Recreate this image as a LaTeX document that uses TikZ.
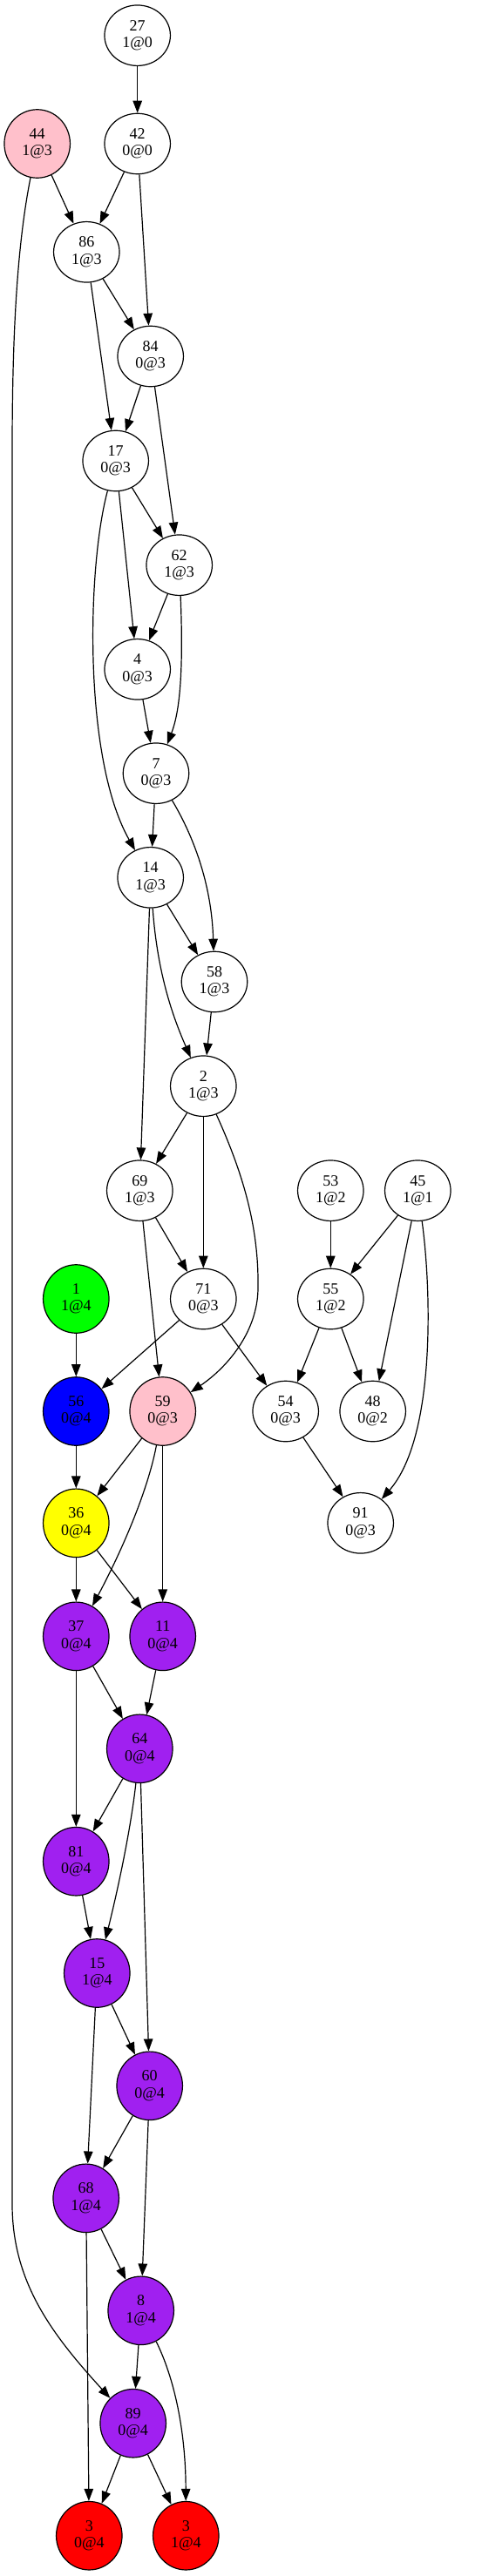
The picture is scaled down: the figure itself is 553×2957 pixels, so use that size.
\documentclass[tikz,border=0pt]{standalone}
\usepackage{fontspec}
\setmainfont{Liberation Serif}
\usetikzlibrary{arrows.meta,shapes.geometric}
\definecolor{gvpink}{RGB}{255,192,203}
\definecolor{gvpurple}{RGB}{160,32,240}
\definecolor{gvgreen}{RGB}{0,255,0}
\definecolor{gvblue}{RGB}{0,0,255}
\definecolor{gvyellow}{RGB}{255,255,0}
\definecolor{gvred}{RGB}{255,0,0}
\begin{document}
\begin{tikzpicture}[x=1pt,y=-1pt,
  nd/.style={ellipse,draw,line width=1.2pt,inner sep=0pt,minimum width=75.5pt,minimum height=69.5pt,align=center,font=\fontsize{18}{19.3}\selectfont},
  cn/.style={nd,minimum height=78.5pt},
  ed/.style={-{Triangle[length=14pt,width=10.5pt]},line width=1.2pt}]
\fill[white] (0,0) rectangle (553,2957);
\useasboundingbox (0,0) rectangle (553,2957);
% nodes
\node[nd] (n27) at (157.7,40.7) {27\\1@0};
\node[cn,fill=gvpink] (n44) at (42.7,165) {44\\1@3};
\node[nd] (n42) at (157.7,165) {42\\0@0};
\node[nd] (n86) at (99.3,289.3) {86\\1@3};
\node[nd] (n84) at (172.7,409) {84\\0@3};
\node[nd] (n17) at (132.7,529) {17\\0@3};
\node[nd] (n62) at (205.7,648.7) {62\\1@3};
\node[nd] (n4) at (157.7,768.3) {4\\0@3};
\node[nd] (n7) at (179,887.7) {7\\0@3};
\node[nd] (n14) at (172.7,1007.3) {14\\1@3};
\node[nd] (n58) at (246,1127) {58\\1@3};
\node[nd] (n2) at (233.3,1246.7) {2\\1@3};
\node[nd] (n69) at (160.3,1366.7) {69\\1@3};
\node[nd] (n53) at (379.3,1366.7) {53\\1@2};
\node[nd] (n45) at (479.3,1366.7) {45\\1@1};
\node[cn,fill=gvgreen] (n1) at (87.3,1491) {1\\1@4};
\node[nd] (n71) at (233.3,1491) {71\\0@3};
\node[nd] (n55) at (379.3,1491) {55\\1@2};
\node[cn,fill=gvblue] (n56) at (87.3,1620) {56\\0@4};
\node[cn,fill=gvpink] (n59) at (186.7,1620) {59\\0@3};
\node[nd] (n54) at (327.7,1620) {54\\0@3};
\node[nd] (n48) at (427.7,1620) {48\\0@2};
\node[cn,fill=gvyellow] (n36) at (87.3,1748.3) {36\\0@4};
\node[nd] (n91) at (413.7,1748.3) {91\\0@3};
\node[cn,fill=gvpurple] (n37) at (87.3,1878.3) {37\\0@4};
\node[cn,fill=gvpurple] (n11) at (186.7,1878.3) {11\\0@4};
\node[cn,fill=gvpurple] (n64) at (160.3,2007.3) {64\\0@4};
\node[cn,fill=gvpurple] (n81) at (87.3,2136.7) {81\\0@4};
\node[cn,fill=gvpurple] (n15) at (111.3,2265) {15\\1@4};
\node[cn,fill=gvpurple] (n60) at (171.7,2394.3) {60\\0@4};
\node[cn,fill=gvpurple] (n68) at (98.7,2523.3) {68\\1@4};
\node[cn,fill=gvpurple] (n8) at (161.7,2652.3) {8\\1@4};
\node[cn,fill=gvpurple] (n89) at (152.7,2781.7) {89\\0@4};
\node[cn,fill=gvred] (n3a) at (102.3,2910.7) {3\\0@4};
\node[cn,fill=gvred] (n3b) at (213.3,2910.7) {3\\1@4};
% edges
\draw[ed] (n27) -- (n42);
\draw[ed] (n44) -- (n86);
\draw[ed] (n44) .. controls (18,290) and (14,400) .. (14,520) -- (14,2530) .. controls (14,2620) and (60,2680) .. (n89);
\draw[ed] (n42) -- (n86);
\draw[ed] (n42) -- (n84);
\draw[ed] (n86) -- (n84);
\draw[ed] (n86) -- (n17);
\draw[ed] (n84) -- (n17);
\draw[ed] (n84) -- (n62);
\draw[ed] (n17) -- (n62);
\draw[ed] (n17) -- (n4);
\draw[ed] (n17) .. controls (100,650) and (95,870) .. (n14);
\draw[ed] (n62) -- (n4);
\draw[ed] (n62) .. controls (211,780) and (205,820) .. (n7);
\draw[ed] (n4) -- (n7);
\draw[ed] (n7) -- (n14);
\draw[ed] (n7) .. controls (225,965) and (243,1020) .. (n58);
\draw[ed] (n14) -- (n58);
\draw[ed] (n14) .. controls (180,1110) and (195,1160) .. (n2);
\draw[ed] (n14) -- (n69);
\draw[ed] (n58) -- (n2);
\draw[ed] (n2) -- (n69);
\draw[ed] (n2) -- (n71);
\draw[ed] (n2) .. controls (285,1360) and (297,1420) .. (296,1480) .. controls (295,1530) and (260,1570) .. (n59);
\draw[ed] (n69) -- (n71);
\draw[ed] (n69) -- (n59);
\draw[ed] (n53) -- (n55);
\draw[ed] (n45) -- (n55);
\draw[ed] (n45) -- (n48);
\draw[ed] (n45) .. controls (495,1480) and (500,1650) .. (n91);
\draw[ed] (n1) -- (n56);
\draw[ed] (n71) -- (n56);
\draw[ed] (n71) -- (n54);
\draw[ed] (n55) -- (n54);
\draw[ed] (n55) -- (n48);
\draw[ed] (n56) -- (n36);
\draw[ed] (n59) -- (n36);
\draw[ed] (n59) .. controls (170,1710) and (140,1780) .. (n37);
\draw[ed] (n59) -- (n11);
\draw[ed] (n54) -- (n91);
\draw[ed] (n36) -- (n37);
\draw[ed] (n36) -- (n11);
\draw[ed] (n37) -- (n81);
\draw[ed] (n37) -- (n64);
\draw[ed] (n11) -- (n64);
\draw[ed] (n64) -- (n81);
\draw[ed] (n64) .. controls (150,2100) and (135,2170) .. (n15);
\draw[ed] (n64) -- (n60);
\draw[ed] (n81) -- (n15);
\draw[ed] (n15) -- (n60);
\draw[ed] (n15) -- (n68);
\draw[ed] (n60) -- (n68);
\draw[ed] (n60) -- (n8);
\draw[ed] (n68) -- (n8);
\draw[ed] (n68) -- (n3a);
\draw[ed] (n8) -- (n89);
\draw[ed] (n8) .. controls (200,2730) and (213,2790) .. (n3b);
\draw[ed] (n89) -- (n3a);
\draw[ed] (n89) -- (n3b);
\end{tikzpicture}
\end{document}
